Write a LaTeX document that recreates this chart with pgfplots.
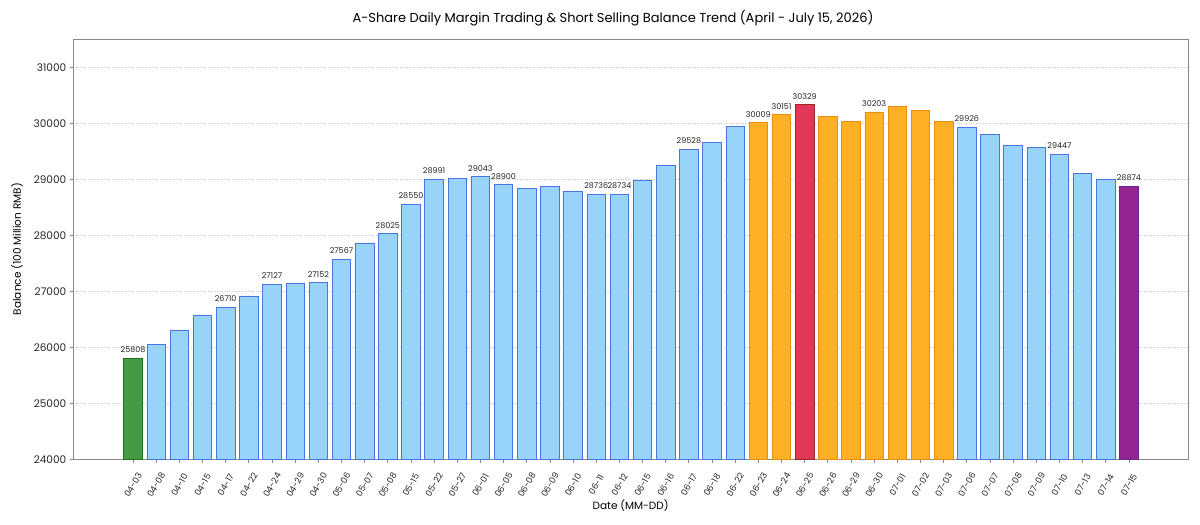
\documentclass[border=0pt]{standalone}
\usepackage{pgfplots}
\pgfplotsset{compat=1.18}
\usepackage{fontspec}
\setmainfont{Poppins}
\definecolor{lbfill}{HTML}{98D4F9}
\definecolor{lbedge}{HTML}{4A74E2}
\definecolor{gfill}{HTML}{439C43}
\definecolor{gedge}{HTML}{1E721E}
\definecolor{ofill}{HTML}{FFB126}
\definecolor{oedge}{HTML}{EC8C10}
\definecolor{rfill}{HTML}{E03856}
\definecolor{redge}{HTML}{9C2626}
\definecolor{pfill}{HTML}{932693}
\definecolor{pedge}{HTML}{662695}
\definecolor{framec}{HTML}{888888}
\begin{document}
\begin{tikzpicture}
\path[use as bounding box] (-73.3pt,-65.7pt) rectangle (1126.7pt,459.3pt);
\begin{axis}[
  scale only axis, width=1114.7pt, height=420.3pt,
  xmin=-2.58, xmax=45.55, ymin=24000, ymax=31505,
  clip=false,
  axis line style={framec, line width=0.9pt},
  ytick={24000,25000,...,31000},
  scaled y ticks=false,
  yticklabel={\pgfmathprintnumber[fixed,precision=0,1000 sep={}]{\tick}},
  xtick={0,...,43},
  xticklabels={04-03,04-08,04-10,04-15,04-17,04-22,04-24,04-29,04-30,05-06,05-07,05-08,05-15,05-22,05-27,06-01,06-05,06-08,06-09,06-10,06-11,06-12,06-15,06-16,06-17,06-18,06-22,06-23,06-24,06-25,06-26,06-29,06-30,07-01,07-02,07-03,07-06,07-07,07-08,07-09,07-10,07-13,07-14,07-15},
  xtick pos=lower, ytick pos=left,
  tick align=outside, major tick length=3.5pt,
  tick style={framec, line width=0.8pt},
  ymajorgrids, grid style={dotted, black!22, line width=0.5pt},
  /pgf/number format/assume math mode=true,
  /pgf/number format/1000 sep={},
  yticklabel style={font=\fontsize{10.5}{12}\selectfont, text=black!85},
  xticklabel style={font=\fontsize{8.7}{10}\selectfont, text=black!85, yshift=-22pt, rotate=60, anchor=center},
  xlabel={Date (MM-DD)},
  xlabel style={at={(axis description cs:0.5,0)}, anchor=center, yshift=-46.7pt, font=\fontsize{10.5}{12}\selectfont},
  ylabel={Balance (100 Million RMB)},
  ylabel style={at={(axis description cs:0,0.5)}, anchor=center, yshift=56.3pt, font=\fontsize{10.5}{12}\selectfont},
  title={A-Share Daily Margin Trading \& Short Selling Balance Trend (April - July 15, 2026)},
  title style={at={(axis description cs:0,1)}, anchor=center, xshift=539.7pt, yshift=15pt, font=\fontsize{13}{15}\selectfont},
  ybar, bar width=18.5pt,
]
% light blue bars
\addplot[bar shift=0pt, fill=lbfill, draw=lbedge, line width=0.8pt] coordinates {
(1,26048) (2,26309) (3,26577) (4,26710) (5,26917) (6,27127) (7,27137) (8,27152)
(9,27567) (10,27863) (11,28025) (12,28550) (13,28991) (14,29012) (15,29043)
(16,28900) (17,28830) (18,28866) (19,28789) (20,28736) (21,28734) (22,28979)
(23,29247) (24,29528) (25,29658) (26,29949)
(36,29926) (37,29795) (38,29598) (39,29562) (40,29447) (41,29098) (42,28991)
};
% green
\addplot[bar shift=0pt, fill=gfill, draw=gedge, line width=0.8pt] coordinates {(0,25808)};
% orange
\addplot[bar shift=0pt, fill=ofill, draw=oedge, line width=0.8pt] coordinates {
(27,30009) (28,30151) (30,30116) (31,30033) (32,30203) (33,30306) (34,30229) (35,30033)
};
% red
\addplot[bar shift=0pt, fill=rfill, draw=redge, line width=0.8pt] coordinates {(29,30329)};
% purple
\addplot[bar shift=0pt, fill=pfill, draw=pedge, line width=0.8pt] coordinates {(43,28874)};
% value labels
\addplot[bar shift=0pt, draw=none, fill=none,
  point meta=explicit symbolic,
  nodes near coords,
  nodes near coords style={font=\fontsize{8}{9}\selectfont, text=black!85, inner sep=1pt, yshift=4.5pt}]
coordinates {
(0,25808) [25808] (4,26710) [26710] (6,27127) [27127] (8,27152) [27152]
(9,27567) [27567] (11,28025) [28025] (12,28550) [28550] (13,28991) [28991]
(15,29043) [29043] (16,28900) [28900] (20,28736) [28736] (21,28734) [28734]
(24,29528) [29528] (27,30009) [30009] (28,30151) [30151] (29,30329) [30329]
(32,30203) [30203] (36,29926) [29926] (40,29447) [29447] (43,28874) [28874]
};
\end{axis}
\end{tikzpicture}
\end{document}
